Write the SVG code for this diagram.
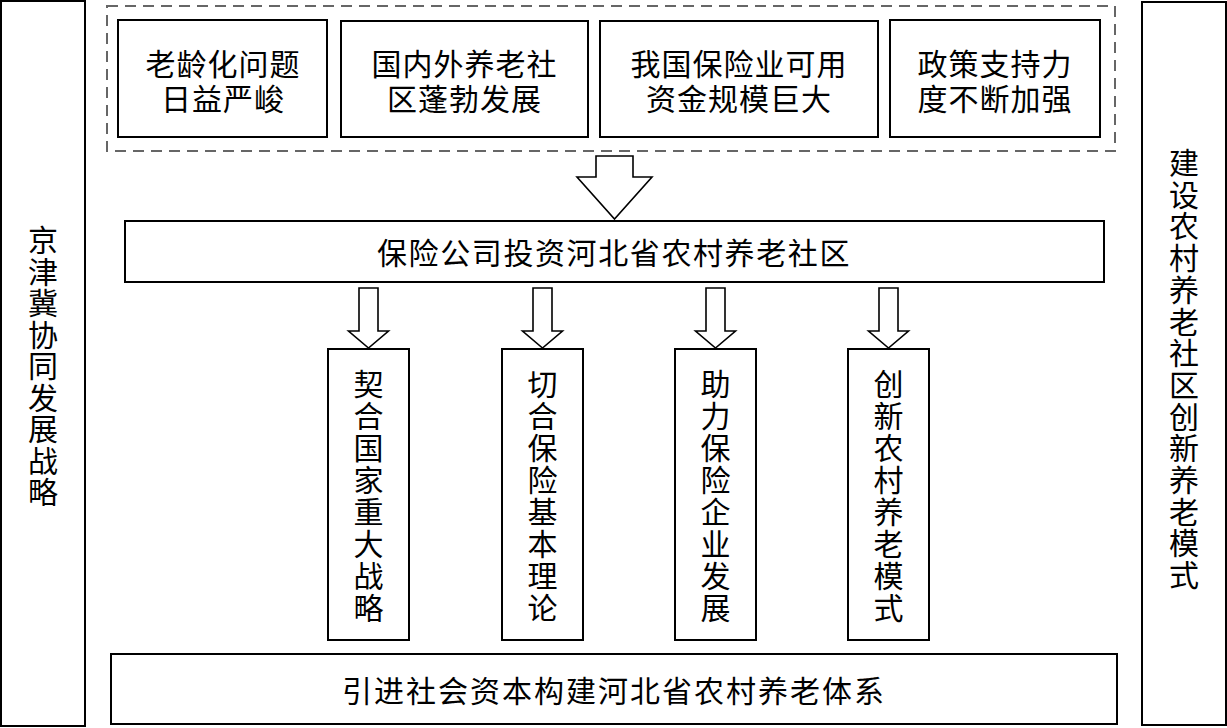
<svg xmlns="http://www.w3.org/2000/svg" width="1227" height="728" viewBox="0 0 1227 728">
<style>
.box{fill:#fff;stroke:#000;stroke-width:2}
.dash{fill:none;stroke:#666;stroke-width:2;stroke-dasharray:11 7}
.arrow{fill:#fff;stroke:#000;stroke-width:1.6;stroke-linejoin:miter}
text{font-family:"Noto Sans CJK SC","Noto Sans CJK JP",sans-serif;font-size:30px;fill:#000;text-anchor:middle;dominant-baseline:central}
.h{letter-spacing:1px}
</style>
<rect width="1227" height="728" fill="#fff"/>
<g id="left-col">
<rect class="box" x="1" y="1" width="84" height="725"/>
<text><tspan x="43" y="238">京</tspan><tspan x="43" y="269.5">津</tspan><tspan x="43" y="301">冀</tspan><tspan x="43" y="332.5">协</tspan><tspan x="43" y="364">同</tspan><tspan x="43" y="395.5">发</tspan><tspan x="43" y="427">展</tspan><tspan x="43" y="458.5">战</tspan><tspan x="43" y="490">略</tspan></text>
</g>
<g id="right-col">
<rect class="box" x="1142" y="2" width="84" height="723"/>
<text><tspan x="1184" y="161">建</tspan><tspan x="1184" y="192.7">设</tspan><tspan x="1184" y="224.4">农</tspan><tspan x="1184" y="256.1">村</tspan><tspan x="1184" y="287.8">养</tspan><tspan x="1184" y="319.5">老</tspan><tspan x="1184" y="351.2">社</tspan><tspan x="1184" y="382.9">区</tspan><tspan x="1184" y="414.6">创</tspan><tspan x="1184" y="446.3">新</tspan><tspan x="1184" y="478">养</tspan><tspan x="1184" y="509.7">老</tspan><tspan x="1184" y="541.4">模</tspan><tspan x="1184" y="573.1">式</tspan></text>
</g>
<g id="factors">
<rect class="dash" x="107" y="6" width="1008" height="145"/>
<g id="f1"><rect class="box" x="118" y="20" width="209" height="117"/>
<text class="h"><tspan x="223" y="62">老龄化问题</tspan><tspan x="223" y="97">日益严峻</tspan></text></g>
<g id="f2"><rect class="box" x="341" y="21" width="247" height="116"/>
<text class="h"><tspan x="464.5" y="62">国内外养老社</tspan><tspan x="464.5" y="97">区蓬勃发展</tspan></text></g>
<g id="f3"><rect class="box" x="600" y="21" width="278" height="116"/>
<text class="h"><tspan x="739" y="62">我国保险业可用</tspan><tspan x="739" y="97">资金规模巨大</tspan></text></g>
<g id="f4"><rect class="box" x="890" y="20" width="210" height="117"/>
<text class="h"><tspan x="995" y="62">政策支持力</tspan><tspan x="995" y="97">度不断加强</tspan></text></g>
</g>
<g id="main">
<rect class="box" x="125" y="221" width="979" height="61"/>
<text x="614" y="251" style="letter-spacing:1.6px">保险公司投资河北省农村养老社区</text>
</g>
<g id="b1"><rect class="box" x="328" y="349" width="81" height="291"/>
<text><tspan x="368.5" y="382">契</tspan><tspan x="368.5" y="414">合</tspan><tspan x="368.5" y="446">国</tspan><tspan x="368.5" y="478">家</tspan><tspan x="368.5" y="510">重</tspan><tspan x="368.5" y="542">大</tspan><tspan x="368.5" y="574">战</tspan><tspan x="368.5" y="606">略</tspan></text></g>
<g id="b2"><rect class="box" x="502" y="349" width="81" height="291"/>
<text><tspan x="542.5" y="382">切</tspan><tspan x="542.5" y="414">合</tspan><tspan x="542.5" y="446">保</tspan><tspan x="542.5" y="478">险</tspan><tspan x="542.5" y="510">基</tspan><tspan x="542.5" y="542">本</tspan><tspan x="542.5" y="574">理</tspan><tspan x="542.5" y="606">论</tspan></text></g>
<g id="b3"><rect class="box" x="675" y="349" width="81" height="291"/>
<text><tspan x="715.5" y="382">助</tspan><tspan x="715.5" y="414">力</tspan><tspan x="715.5" y="446">保</tspan><tspan x="715.5" y="478">险</tspan><tspan x="715.5" y="510">企</tspan><tspan x="715.5" y="542">业</tspan><tspan x="715.5" y="574">发</tspan><tspan x="715.5" y="606">展</tspan></text></g>
<g id="b4"><rect class="box" x="848" y="349" width="81" height="291"/>
<text><tspan x="888.5" y="382">创</tspan><tspan x="888.5" y="414">新</tspan><tspan x="888.5" y="446">农</tspan><tspan x="888.5" y="478">村</tspan><tspan x="888.5" y="510">养</tspan><tspan x="888.5" y="542">老</tspan><tspan x="888.5" y="574">模</tspan><tspan x="888.5" y="606">式</tspan></text></g>
<g id="bottom">
<rect class="box" x="111" y="654" width="1006" height="70"/>
<text x="614" y="689" style="letter-spacing:2px">引进社会资本构建河北省农村养老体系</text>
</g>
<g id="connectors">
<polygon class="arrow" points="596,156 633,156 633,177 652,177 614.5,219 577,177 596,177"/>
<polygon class="arrow" points="359,288 378,288 378,331 388.5,331 368.5,348 348.5,331 359,331"/>
<polygon class="arrow" points="533,288 552,288 552,331 562.5,331 542.5,348 522.5,331 533,331"/>
<polygon class="arrow" points="706,288 725,288 725,331 735.5,331 715.5,348 695.5,331 706,331"/>
<polygon class="arrow" points="879,288 898,288 898,331 908.5,331 888.5,348 868.5,331 879,331"/>
</g>
</svg>
